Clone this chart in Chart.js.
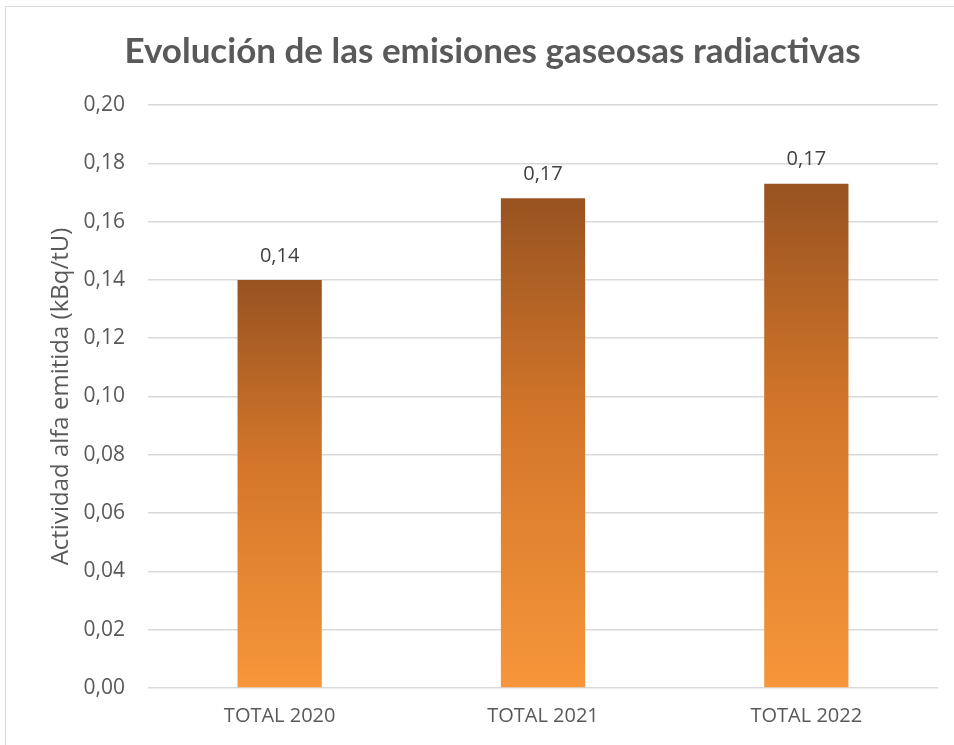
<!DOCTYPE html>
<html>
<head>
<meta charset="utf-8">
<script src="https://cdn.jsdelivr.net/npm/chart.js@4/dist/chart.umd.min.js"></script>
<style>
  html, body { margin: 0; padding: 0; background: #fff; overflow: hidden; }
  #wrap { position: relative; width: 954px; height: 745px; }
  #frame { position: absolute; left: 5px; top: 6px; width: 960px; height: 760px; border: 1px solid #d9d9d9; box-sizing: border-box; pointer-events: none; }
  canvas { position: absolute; left: 0; top: 0; }
</style>
</head>
<body>
<div id="wrap">
  <canvas id="c" width="954" height="745"></canvas>
  <div id="frame"></div>
</div>
<script>
const categories = ["TOTAL 2020", "TOTAL 2021", "TOTAL 2022"];
const values = [0.140, 0.168, 0.173];
const chartTitle = "Evolución de las emisiones gaseosas radiactivas";
const yAxisTitle = "Actividad alfa emitida (kBq/tU)";

const fmt = v => v.toFixed(2).replace('.', ',');
const TFONT = "Lato, 'Open Sans', sans-serif";
const FONT = "'Open Sans', Lato, sans-serif";

const labelPlugin = {
  id: 'barLabels',
  afterDatasetsDraw(chart) {
    const ctx = chart.ctx;
    const meta = chart.getDatasetMeta(0);
    ctx.save();
    ctx.font = "20px " + FONT;
    ctx.fillStyle = "#404040";
    ctx.textAlign = "center";
    ctx.textBaseline = "middle";
    meta.data.forEach((bar, i) => {
      ctx.fillText(fmt(values[i]), bar.x, bar.y - 24);
    });
    ctx.restore();
  }
};

new Chart(document.getElementById('c'), {
  type: 'bar',
  data: {
    labels: categories,
    datasets: [{
      data: values,
      backgroundColor(context) {
        const chart = context.chart;
        const ys = chart.scales.y;
        if (!ys || context.dataIndex === undefined) return '#d97f2e';
        const top = ys.getPixelForValue(values[context.dataIndex]);
        const base = ys.getPixelForValue(0);
        if (!isFinite(top) || !isFinite(base)) return '#d97f2e';
        const g = chart.ctx.createLinearGradient(0, top, 0, base);
        g.addColorStop(0, '#985321');
        g.addColorStop(0.45, '#d3762a');
        g.addColorStop(1, '#f7963a');
        return g;
      },
      borderWidth: 0,
      barPercentage: 0.32,
      categoryPercentage: 1.0
    }]
  },
  options: {
    responsive: false,
    animation: false,
    events: [],
    layout: { padding: { left: 47, right: 16, top: 0, bottom: 0 } },
    plugins: {
      legend: { display: false },
      tooltip: { enabled: false },
      title: {
        display: true,
        text: chartTitle,
        color: '#595959',
        font: { family: TFONT, size: 35, weight: 'bold' },
        padding: { top: 31, bottom: 32 }
      }
    },
    scales: {
      y: {
        min: 0, max: 0.2,
        ticks: {
          stepSize: 0.02,
          callback: v => fmt(v),
          color: '#595959',
          font: { family: FONT, size: 21 },
          padding: 23
        },
        grid: { color: '#d9d9d9', lineWidth: 1.5, drawTicks: false },
        border: { display: false },
        title: {
          display: true,
          text: yAxisTitle,
          color: '#595959',
          font: { family: FONT, size: 24 },
          padding: { top: 0, bottom: 4 }
        },
        afterFit(scale) { scale.width = 101; }
      },
      x: {
        ticks: {
          color: '#595959',
          font: { family: FONT, size: 20 },
          padding: 16
        },
        grid: { display: false, drawTicks: false },
        border: { display: false },
        afterFit(scale) { scale.height = 57; }
      }
    }
  },
  plugins: [labelPlugin]
});
</script>
</body>
</html>
